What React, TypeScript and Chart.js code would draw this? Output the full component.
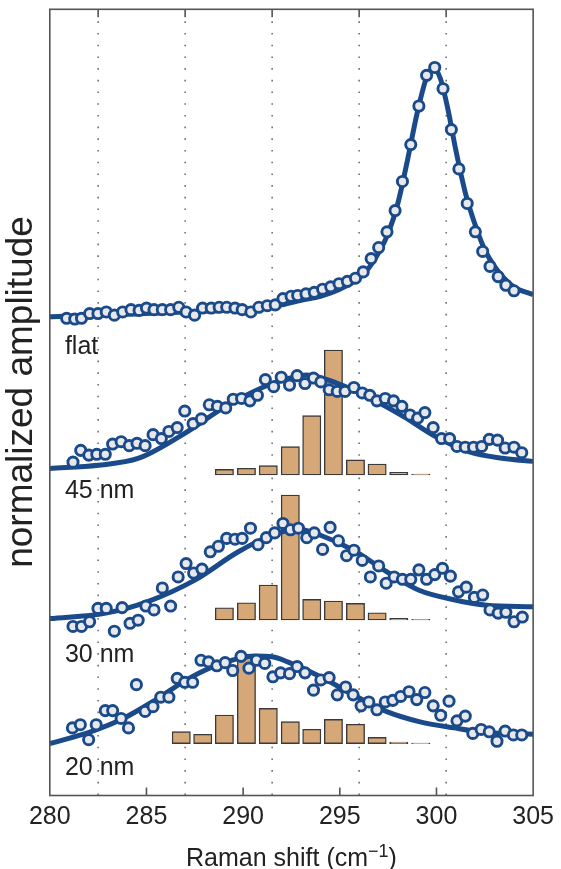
import { useEffect, useRef } from 'react';
import { Chart, registerables } from 'chart.js';

Chart.register(...registerables);

// ---------- data (x: Raman shift in cm^-1, y: normalized amplitude incl. vertical offset) ----------
const flatX = [280.87, 281.29, 281.64, 282.06, 282.49, 282.92, 283.34, 283.77, 284.2, 284.62, 285.0, 285.39, 285.82, 286.25, 286.67, 287.05, 287.49, 287.9, 288.35, 288.76, 289.15, 289.58, 289.95, 290.4, 290.81, 291.25, 291.66, 292.06, 292.48, 292.82, 293.25, 293.68, 294.11, 294.53, 294.96, 295.39, 295.81, 296.21, 296.62, 297.01, 297.44, 297.86, 298.24, 298.67, 299.09, 299.49, 299.91, 300.34, 300.77, 301.16, 301.59, 302.01, 302.39, 302.77, 303.19, 303.59, 304.01];
const flatY = [6.07, 6.06, 6.07, 6.13, 6.13, 6.15, 6.11, 6.15, 6.18, 6.17, 6.2, 6.18, 6.18, 6.18, 6.21, 6.15, 6.11, 6.2, 6.2, 6.21, 6.21, 6.2, 6.18, 6.15, 6.21, 6.23, 6.24, 6.32, 6.35, 6.36, 6.38, 6.4, 6.44, 6.47, 6.51, 6.54, 6.58, 6.66, 6.83, 6.97, 7.17, 7.44, 7.81, 8.28, 8.77, 9.16, 9.26, 8.99, 8.47, 7.97, 7.53, 7.17, 6.92, 6.73, 6.6, 6.49, 6.42];
const flatFitX = [280, 282, 284, 286, 288, 290, 291, 292, 293, 294, 295, 296, 296.5, 297, 297.5, 298, 298.5, 299, 299.5, 299.85, 300.2, 300.6, 301, 301.5, 302, 302.5, 303, 303.5, 304, 305];
const flatFitY = [6.09, 6.11, 6.12, 6.14, 6.16, 6.18, 6.2, 6.24, 6.3, 6.35, 6.44, 6.58, 6.71, 6.9, 7.15, 7.53, 8.08, 8.68, 9.14, 9.25, 9.12, 8.72, 8.21, 7.66, 7.26, 6.94, 6.73, 6.58, 6.47, 6.37];

const n45X = [281.2, 281.6, 282.02, 282.43, 282.87, 283.25, 283.69, 284.11, 284.51, 284.93, 285.34, 285.77, 286.16, 286.59, 286.98, 287.41, 287.84, 288.25, 288.67, 289.1, 289.49, 289.92, 290.35, 290.74, 291.15, 291.58, 291.97, 292.4, 292.79, 293.2, 293.64, 294.02, 294.45, 294.87, 295.27, 295.73, 296.16, 296.55, 296.92, 297.35, 297.78, 298.21, 298.63, 299.03, 299.4, 299.83, 300.26, 300.68, 301.06, 301.49, 301.92, 302.34, 302.73, 303.16, 303.55, 304.01, 304.41];
const n45Y = [4.24, 4.39, 4.33, 4.34, 4.34, 4.47, 4.5, 4.45, 4.48, 4.45, 4.59, 4.54, 4.63, 4.68, 4.89, 4.73, 4.79, 4.97, 4.95, 4.93, 5.04, 5.05, 5.02, 5.09, 5.29, 5.2, 5.32, 5.22, 5.34, 5.24, 5.31, 5.26, 5.16, 5.14, 5.14, 5.19, 5.12, 5.09, 5.02, 5.05, 5.02, 4.95, 4.84, 4.8, 4.87, 4.68, 4.54, 4.54, 4.44, 4.43, 4.43, 4.44, 4.53, 4.52, 4.42, 4.43, 4.36];
const n45FitX = [280, 282.5, 284.6, 287, 289.1, 291.5, 292.8, 293.3, 294.9, 296.6, 298.3, 300, 301.7, 303.4, 305];
const n45FitY = [4.16, 4.2, 4.29, 4.61, 4.95, 5.24, 5.33, 5.35, 5.24, 5.05, 4.82, 4.56, 4.37, 4.29, 4.25];

const n30X = [281.2, 281.64, 282.06, 282.49, 282.92, 283.34, 283.74, 284.15, 284.57, 284.97, 285.39, 285.82, 286.25, 286.64, 287.05, 287.44, 287.87, 288.3, 288.72, 289.15, 289.58, 289.95, 290.38, 290.77, 291.2, 291.63, 292.06, 292.45, 292.86, 293.29, 293.68, 294.11, 294.5, 294.93, 295.35, 295.73, 296.16, 296.58, 297.01, 297.4, 297.81, 298.24, 298.67, 299.09, 299.49, 299.91, 300.31, 300.72, 301.14, 301.54, 301.96, 302.39, 302.77, 303.19, 303.59, 304.01, 304.44];
const n30Y = [2.15, 2.15, 2.21, 2.38, 2.38, 2.09, 2.39, 2.19, 2.23, 2.41, 2.36, 2.64, 2.41, 2.78, 2.95, 2.83, 2.88, 3.1, 3.17, 3.27, 3.26, 3.27, 3.4, 3.19, 3.28, 3.34, 3.46, 3.38, 3.4, 3.28, 3.34, 3.13, 3.41, 3.24, 3.05, 3.12, 2.99, 2.78, 2.92, 2.7, 2.78, 2.75, 2.75, 2.87, 2.75, 2.81, 2.89, 2.79, 2.59, 2.65, 2.52, 2.55, 2.36, 2.32, 2.33, 2.21, 2.27];
const n30FitX = [280, 282.9, 285.1, 287.5, 289.75, 291.5, 292.8, 294, 295.7, 297.4, 299.1, 300.9, 302.6, 305];
const n30FitY = [2.25, 2.32, 2.47, 2.74, 3.1, 3.31, 3.39, 3.31, 3.12, 2.85, 2.61, 2.49, 2.42, 2.4];

const n20X = [281.17, 281.58, 282.01, 282.4, 282.87, 283.25, 283.69, 284.07, 284.48, 284.93, 285.34, 285.74, 286.16, 286.59, 286.98, 287.39, 287.82, 288.21, 288.64, 289.07, 289.46, 289.89, 290.3, 290.69, 291.12, 291.54, 291.94, 292.4, 292.79, 293.2, 293.64, 294.02, 294.45, 294.87, 295.3, 295.69, 296.1, 296.5, 296.92, 297.35, 297.74, 298.15, 298.58, 298.98, 299.4, 299.83, 300.22, 300.65, 301.06, 301.49, 301.88, 302.31, 302.73, 303.13, 303.55, 303.98, 304.41];
const n20Y = [0.86, 0.9, 0.71, 0.9, 1.08, 1.08, 0.98, 0.86, 1.41, 1.07, 1.13, 1.25, 1.25, 1.49, 1.44, 1.44, 1.72, 1.7, 1.65, 1.69, 1.59, 1.77, 1.62, 1.72, 1.68, 1.51, 1.56, 1.55, 1.64, 1.56, 1.34, 1.47, 1.5, 1.28, 1.38, 1.28, 1.14, 1.19, 1.09, 1.19, 1.21, 1.26, 1.32, 1.22, 1.31, 1.14, 1.02, 1.2, 0.95, 1.01, 0.79, 0.84, 0.81, 0.69, 0.82, 0.77, 0.77];
const n20FitX = [280, 282.1, 283.8, 285.5, 287.2, 288.9, 290.6, 291.5, 292.3, 294, 295.7, 297.4, 299.1, 300.9, 302.6, 305];
const n20FitY = [0.66, 0.81, 0.98, 1.22, 1.49, 1.68, 1.775, 1.765, 1.7, 1.51, 1.28, 1.07, 0.94, 0.86, 0.8, 0.78];

// histograms (bin centres, bar heights, baseline of each panel)
const bins45 = [289.03, 290.17, 291.3, 292.44, 293.55, 294.67, 295.81, 296.93, 298.05, 299.19];
const hist45 = [0.072, 0.085, 0.118, 0.36, 0.754, 1.59, 0.191, 0.14, 0.034, 0.012];
const base45 = 4.077;
const bins30 = [289.03, 290.17, 291.3, 292.44, 293.55, 294.67, 295.81, 296.93, 298.05, 299.19];
const hist30 = [0.156, 0.22, 0.445, 1.59, 0.263, 0.242, 0.212, 0.093, 0.02, 0.008];
const base30 = 2.232;
const bins20 = [286.8, 287.91, 289.03, 290.17, 291.3, 292.44, 293.55, 294.67, 295.81, 296.93, 298.05, 299.19];
const hist20 = [0.153, 0.12, 0.365, 1.141, 0.45, 0.28, 0.183, 0.31, 0.247, 0.081, 0.02, 0.008];
const base20 = 0.659;

// axis ticks
const bottomTicks = [285, 290, 295, 300];
const dottedX = [282.5, 287, 291.5, 296, 300.5];

// panel labels
const labelText = ['flat', '45 nm', '30 nm', '20 nm'];
const labelY = [5.62, 3.78, 1.7, 0.26];
const labelX = 280.78;

// ---------- styles ----------
const FONT = '"Liberation Sans", Arial, Helvetica, sans-serif';
const BLUE = '#1b4a8a';
const CIRCLE_FILL = '#e6e8ec';
const TAN = '#d6a777';
const FRAME = '#555555';
const TEXT = '#222222';

const pts = (xs: number[], ys: number[]) => xs.map((x, i) => ({ x, y: ys[i] }));
const bars = (xs: number[], hs: number[], b: number) => xs.map((x, i) => ({ x, y: [b, b + hs[i]] }));

const fitDs = (xs: number[], ys: number[]) => ({
  type: 'line' as const,
  data: pts(xs, ys),
  borderColor: BLUE,
  borderWidth: 5,
  pointRadius: 0,
  fill: false,
  cubicInterpolationMode: 'monotone' as const,
  order: 2,
});
const dotDs = (xs: number[], ys: number[]) => ({
  type: 'scatter' as const,
  data: pts(xs, ys),
  showLine: false,
  pointRadius: 5.1,
  pointBorderWidth: 2.9,
  pointBorderColor: BLUE,
  pointBackgroundColor: CIRCLE_FILL,
  order: 1,
});
const barDs = (xs: number[], hs: number[], b: number) => ({
  type: 'bar' as const,
  data: bars(xs, hs, b),
  backgroundColor: TAN,
  borderColor: '#3a3a3a',
  borderWidth: 1.4,
  borderSkipped: false,
  barThickness: 18.3,
  grouped: false,
  order: 3,
});

const decor = {
  id: 'decor',
  beforeDatasetsDraw(chart: any) {
    const { ctx, chartArea: a, scales } = chart;
    const x = scales.x;
    ctx.save();
    ctx.strokeStyle = '#666666';
    ctx.lineWidth = 1.5;
    ctx.setLineDash([1.6, 10.1]);
    for (const v of dottedX) {
      const px = x.getPixelForValue(v);
      ctx.beginPath();
      ctx.moveTo(px, a.top + 12);
      ctx.lineTo(px, a.bottom);
      ctx.stroke();
    }
    ctx.restore();
  },
  afterDraw(chart: any) {
    const { ctx, chartArea: a, scales } = chart;
    const x = scales.x;
    const y = scales.y;
    ctx.save();
    // frame
    ctx.strokeStyle = FRAME;
    ctx.lineWidth = 1.6;
    ctx.strokeRect(a.left, a.top, a.right - a.left, a.bottom - a.top);
    // tick marks
    ctx.beginPath();
    for (const v of bottomTicks) {
      const px = x.getPixelForValue(v);
      ctx.moveTo(px, a.bottom);
      ctx.lineTo(px, a.bottom - 8);
    }
    for (const v of dottedX) {
      const px = x.getPixelForValue(v);
      ctx.moveTo(px, a.top);
      ctx.lineTo(px, a.top + 8);
    }
    ctx.stroke();
    // panel labels
    ctx.fillStyle = TEXT;
    ctx.font = `25px ${FONT}`;
    ctx.textAlign = 'left';
    ctx.textBaseline = 'alphabetic';
    labelText.forEach((t, i) => {
      ctx.fillText(t, x.getPixelForValue(labelX), y.getPixelForValue(labelY[i]));
    });
    // x title with superscript
    const main = 'Raman shift (cm';
    const sup = '\u22121';
    const close = ')';
    ctx.font = `25px ${FONT}`;
    const w1 = ctx.measureText(main).width;
    const w3 = ctx.measureText(close).width;
    ctx.font = `18px ${FONT}`;
    const w2 = ctx.measureText(sup).width;
    const cx = (a.left + a.right) / 2;
    let sx = cx - (w1 + w2 + w3) / 2;
    const by = 866;
    ctx.font = `25px ${FONT}`;
    ctx.fillText(main, sx, by);
    sx += w1;
    ctx.font = `18px ${FONT}`;
    ctx.fillText(sup, sx, by - 9);
    sx += w2;
    ctx.font = `25px ${FONT}`;
    ctx.fillText(close, sx, by);
    // y title
    ctx.translate(32, 392);
    ctx.rotate(-Math.PI / 2);
    ctx.font = `37px ${FONT}`;
    ctx.textAlign = 'center';
    ctx.fillText('normalized amplitude', 0, 0);
    ctx.restore();
  },
};

export default function App() {
  const ref = useRef<HTMLCanvasElement>(null);
  useEffect(() => {
    const canvas = ref.current;
    if (!canvas) return;
    const chart = new Chart(canvas, {
      type: 'scatter',
      data: {
        datasets: [
          dotDs(flatX, flatY),
          dotDs(n45X, n45Y),
          dotDs(n30X, n30Y),
          dotDs(n20X, n20Y),
          fitDs(flatFitX, flatFitY),
          fitDs(n45FitX, n45FitY),
          fitDs(n30FitX, n30FitY),
          fitDs(n20FitX, n20FitY),
          barDs(bins45, hist45, base45),
          barDs(bins30, hist30, base30),
          barDs(bins20, hist20, base20),
        ] as any,
      },
      options: {
        animation: false,
        responsive: false,
        maintainAspectRatio: false,
        devicePixelRatio: 1,
        events: [],
        layout: { padding: { left: 49.8, right: 23.4, top: 9.3, bottom: 0 } },
        plugins: { legend: { display: false }, tooltip: { enabled: false } },
        scales: {
          x: {
            type: 'linear',
            position: 'bottom',
            min: 280,
            max: 305,
            offset: false,
            grid: { display: false, drawTicks: false, offset: false },
            border: { display: false },
            ticks: {
              stepSize: 5,
              autoSkip: false,
              maxRotation: 0,
              padding: 7,
              color: TEXT,
              font: { family: FONT, size: 25 },
            },
            afterFit: (s: any) => {
              s.height = 73.5;
            },
          },
          y: {
            type: 'linear',
            display: false,
            min: 0,
            max: 10,
          },
        },
      },
      plugins: [decor],
    });
    return () => chart.destroy();
  }, []);
  return (
    <div style={{ position: 'absolute', left: 0, top: 0, width: 561, height: 869, background: '#fff' }}>
      <canvas ref={ref} width={561} height={869} style={{ display: 'block', width: 561, height: 869 }} />
    </div>
  );
}
